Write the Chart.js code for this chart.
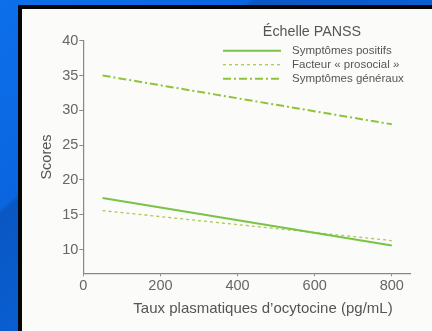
<!DOCTYPE html>
<html>
<head>
<meta charset="utf-8">
<script src="https://cdn.jsdelivr.net/npm/chart.js@4.4.1/dist/chart.umd.min.js"></script>
<style>
  html, body { margin: 0; padding: 0; }
  body {
    width: 432px; height: 331px; overflow: hidden; position: relative;
    background: linear-gradient(140deg, #0d6fea 0%, #0a66e0 30%, #0957c4 31%, #0a62d8 60%, #0a5fd2 100%);
  }
  #panel {
    position: absolute; left: 18px; top: 5px; width: 420px; height: 340px;
    box-sizing: border-box; border-left: 4px solid #060606; border-top: 4px solid #060606;
    background: #fbfbf9;
  }
  #wrap { position: absolute; left: 0; top: 0; width: 432px; height: 331px; }
</style>
</head>
<body>
<div id="panel"></div>
<div id="wrap"><canvas id="chartCanvas" width="432" height="331"></canvas></div>
<script>
const xValues = [50, 800];
const positifs = [17.4, 10.6];
const prosocial = [15.6, 11.3];
const generaux = [35.0, 28.0];
const seriesNames = ["Symptômes positifs", "Facteur « prosocial »", "Symptômes généraux"];
const xTicks = [0, 200, 400, 600, 800];
const yTicks = [10, 15, 20, 25, 30, 35, 40];
const xTitle = "Taux plasmatiques d’ocytocine (pg/mL)";

const FONT = "'Liberation Sans', Arial, sans-serif";
const toPoints = (ys) => ys.map((y, i) => ({ x: xValues[i], y: y }));

// legend drawn by hand, on the right, under its title; x title too (it sits off-centre)
const panssLegend = {
  id: "panssLegend",
  afterDraw(chart) {
    const c = chart.ctx;
    c.save();
    c.fillStyle = "#555";
    c.textAlign = "center";
    c.textBaseline = "middle";
    c.font = "15px " + FONT;
    c.fillText(xTitle, 263, 308.5);
    c.font = "14.3px " + FONT;
    c.fillText("Échelle PANSS", 312, 32);
    c.font = "11.5px " + FONT;
    c.textAlign = "left";
    chart.data.datasets.forEach((ds, i) => {
      const y = 50.7 + i * 14;
      c.strokeStyle = ds.borderColor;
      c.lineWidth = ds.borderWidth;
      c.setLineDash(ds.borderDash || []);
      c.beginPath();
      c.moveTo(223, y);
      c.lineTo(281, y);
      c.stroke();
      c.fillText(ds.label, 292, y);
    });
    c.restore();
  }
};

new Chart(document.getElementById("chartCanvas"), {
  type: "line",
  data: {
    datasets: [
      { label: seriesNames[0], data: toPoints(positifs), borderColor: "#79c447", borderWidth: 2 },
      { label: seriesNames[1], data: toPoints(prosocial), borderColor: "#a9c957", borderWidth: 1.3, borderDash: [3, 3] },
      { label: seriesNames[2], data: toPoints(generaux), borderColor: "#8cc43c", borderWidth: 2, borderDash: [8, 3, 2, 3] }
    ]
  },
  options: {
    responsive: false,
    animation: false,
    devicePixelRatio: 1,
    layout: { padding: { left: 0, top: 40.7, right: 21.3, bottom: 0 } },
    elements: { point: { radius: 0 }, line: { tension: 0 } },
    plugins: { legend: { display: false }, tooltip: { enabled: false } },
    scales: {
      x: {
        type: "linear", min: 0, max: 849,
        afterBuildTicks: (s) => { s.ticks = xTicks.map((v) => ({ value: v })); },
        afterFit: (s) => { s.height = 57.7; },
        grid: { display: true, drawOnChartArea: false, tickLength: 3, color: "#888" },
        border: { color: "#888", width: 1.2 },
        ticks: { color: "#666", padding: 1, maxRotation: 0, font: { family: FONT, size: 14.5 } },
        title: { display: false }
      },
      y: {
        min: 6.6, max: 40,
        afterBuildTicks: (s) => { s.ticks = yTicks.map((v) => ({ value: v })); },
        afterFit: (s) => { s.width = 83.3; },
        grid: { display: true, drawOnChartArea: false, tickLength: 4, color: "#888" },
        border: { color: "#888", width: 1.2 },
        ticks: { color: "#666", padding: 1, font: { family: FONT, size: 14.5 } },
        title: { display: true, text: "Scores", color: "#555",
                 font: { family: FONT, size: 14.5 }, padding: { top: 37.8, bottom: 0 } }
      }
    }
  },
  plugins: [panssLegend]
});
</script>
</body>
</html>
